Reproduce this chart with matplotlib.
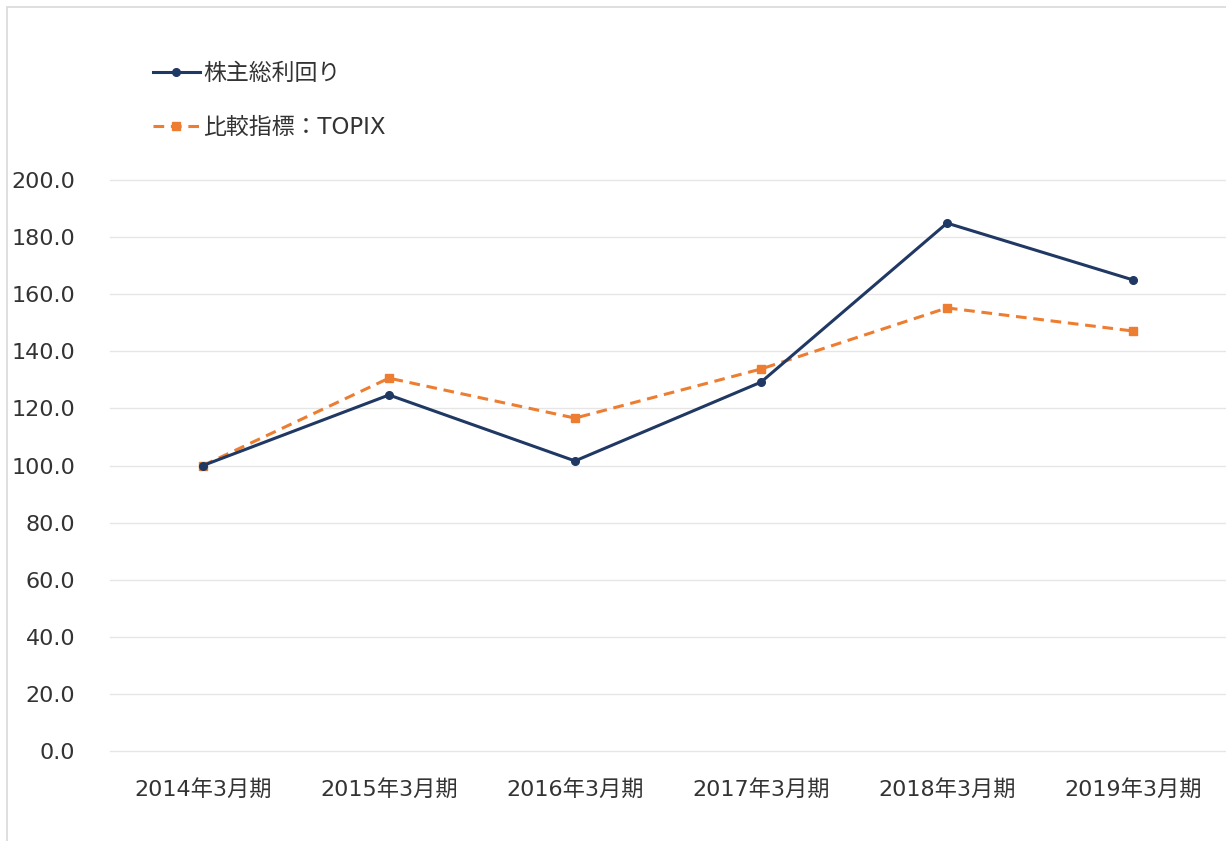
import matplotlib
matplotlib.use("Agg")
import matplotlib.pyplot as plt
from matplotlib.patches import Rectangle

plt.rcParams['font.family'] = ['DejaVu Sans', 'Noto Sans CJK JP']

categories = ["2014年3月期", "2015年3月期", "2016年3月期", "2017年3月期", "2018年3月期", "2019年3月期"]
tsr = [100.0, 124.7, 101.6, 129.2, 184.9, 165.0]
topix = [100.0, 130.6, 116.6, 133.8, 155.2, 147.1]
series_names = ["株主総利回り", "比較指標：TOPIX"]
yticks = [0, 20, 40, 60, 80, 100, 120, 140, 160, 180, 200]

W, H = 1226, 841
fig = plt.figure(figsize=(W / 100, H / 100), dpi=100)
fig.patches.append(Rectangle((7 / W, -0.1), 1.2, 1 - 7 / H + 0.1, transform=fig.transFigure,
                             fill=False, edgecolor='#d9d9d9', linewidth=1.2))

ax = fig.add_axes([110 / W, 1 - 751 / H, 1 - 110 / W, (751 - 180) / H])
x = list(range(len(categories)))
ax.plot(x, tsr, color='#203864', linewidth=2.2, marker='o', markersize=5.5, label=series_names[0], zorder=3)
ax.plot(x, topix, color='#ED7D31', linewidth=2.2, linestyle=(0, (3.5, 2.2)), marker='s', markersize=6,
        label=series_names[1], zorder=2)

ax.set_xlim(-0.5, len(categories) - 0.5)
ax.set_ylim(0, 200)
ax.set_yticks(yticks)
ax.set_yticklabels([f"{v:.1f}" for v in yticks])
ax.set_xticks(x)
ax.set_xticklabels(categories)
ax.tick_params(axis='y', length=0, pad=25, labelsize=16, labelcolor='#333333')
ax.tick_params(axis='x', length=0, pad=20, labelsize=16, labelcolor='#333333')
ax.grid(axis='y', color='#e6e6e6', linewidth=1)
for gl in ax.get_ygridlines():
    gl.set_clip_on(False)
ax.set_axisbelow(True)
for s in ax.spines.values():
    s.set_visible(False)

leg = fig.legend(loc='upper left', bbox_to_anchor=(153 / W, 1 - 62 / H), frameon=False,
                 fontsize=16.5, handlelength=2.05, handletextpad=0.13, labelspacing=1.37,
                 borderaxespad=0, borderpad=0)
for t in leg.get_texts():
    t.set_color('#333333')

fig.savefig("out.png", dpi=100)
